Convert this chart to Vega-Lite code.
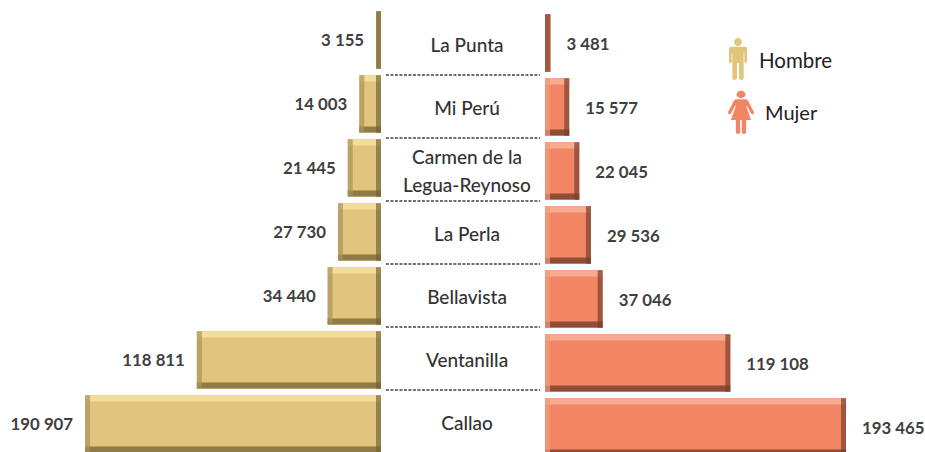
{
"$schema":"https://vega.github.io/schema/vega-lite/v6.json",
"padding":0,"spacing":0,"background":"white","autosize":{"type":"pad"},
"config":{"view":{"stroke":null},"locale":{"number":{"decimal":",","thousands":" ","grouping":[3],"currency":["","" ]}},"text":{"font":"Lato"}},
"datasets":{
"d":[
{"distrito":"La Punta","sexo":"Hombre","poblacion":3155},
{"distrito":"Mi Perú","sexo":"Hombre","poblacion":14003},
{"distrito":"Carmen de la\nLegua-Reynoso","sexo":"Hombre","poblacion":21445},
{"distrito":"La Perla","sexo":"Hombre","poblacion":27730},
{"distrito":"Bellavista","sexo":"Hombre","poblacion":34440},
{"distrito":"Ventanilla","sexo":"Hombre","poblacion":118811},
{"distrito":"Callao","sexo":"Hombre","poblacion":190907},
{"distrito":"La Punta","sexo":"Mujer","poblacion":3481},
{"distrito":"Mi Perú","sexo":"Mujer","poblacion":15577},
{"distrito":"Carmen de la\nLegua-Reynoso","sexo":"Mujer","poblacion":22045},
{"distrito":"La Perla","sexo":"Mujer","poblacion":29536},
{"distrito":"Bellavista","sexo":"Mujer","poblacion":37046},
{"distrito":"Ventanilla","sexo":"Mujer","poblacion":119108},
{"distrito":"Callao","sexo":"Mujer","poblacion":193465}
],
"leyenda":[{"sexo":"Hombre"},{"sexo":"Mujer"}]
},
"hconcat":[
{"width":381,"height":452,
 "data":{"name":"d"},
 "transform":[{"filter":"datum.sexo=='Hombre'"}],
 "encoding":{
  "y":{"field":"distrito","type":"nominal","axis":null,"sort":null,
   "scale":{"domain":["La Punta","Mi Perú","Carmen de la\nLegua-Reynoso","La Perla","Bellavista","Ventanilla","Callao"],"range":[8,456],"paddingInner":0.1,"paddingOuter":0.05}},
  "x":{"field":"poblacion","type":"quantitative","axis":null,"scale":{"domain":[0,245806],"reverse":true,"nice":false,"zero":true}}
 },
 "layer":[
  {"mark":{"type":"bar","color":"#E1C57C","clip":true}},
  {"transform":[{"filter":"datum.poblacion>5000"}],"mark":{"type":"bar","color":"#F3DE9B","height":6,"yOffset":-25.5}},
  {"transform":[{"filter":"datum.poblacion>5000"}],"mark":{"type":"bar","color":"#8E7B47","height":6,"yOffset":25.5}},
  {"transform":[{"filter":"datum.poblacion>5000"}],"mark":{"type":"tick","color":"#A8935A","thickness":5,"bandSize":52,"xOffset":2.5}},
  {"transform":[{"filter":"datum.poblacion>5000"}],"encoding":{"x":{"datum":0,"type":"quantitative"}},"mark":{"type":"tick","color":"#75643A","thickness":5,"bandSize":52,"xOffset":-2.5}},
  {"transform":[{"filter":"datum.poblacion<5000"}],"mark":{"type":"bar","color":"#8F7C48"}},
  {"mark":{"type":"text","align":"right","baseline":"middle","dx":-12,"dy":1,"font":"Lato","fontWeight":"bold","fontSize":16.8,"color":"#404040"},
   "encoding":{"text":{"field":"poblacion","type":"quantitative","format":",d"}}}
 ]
},
{"width":164,"height":452,
 "data":{"name":"d"},
 "transform":[{"filter":"datum.sexo=='Hombre'"}],
 "encoding":{
  "y":{"field":"distrito","type":"nominal","axis":null,"sort":null,
   "scale":{"domain":["La Punta","Mi Perú","Carmen de la\nLegua-Reynoso","La Perla","Bellavista","Ventanilla","Callao"],"range":[13.5,454.5],"paddingInner":0.1,"paddingOuter":0.05}}
 },
 "layer":[
  {"transform":[{"filter":"datum.distrito!='Callao'"}],
   "mark":{"type":"rule","color":"#404040","strokeWidth":1.5,"strokeDash":[3,1.5],"yOffset":30},
   "encoding":{"x":{"datum":0.03,"type":"quantitative","axis":null,"scale":{"domain":[0,1]}},"x2":{"datum":0.97}}},
  {"transform":[{"filter":"indexof(datum.distrito,'\\n')<0"}],
   "mark":{"type":"text","align":"center","baseline":"middle","dx":4,"dy":1,"font":"Lato","fontSize":19,"fontWeight":500,"color":"#333333"},
   "encoding":{"text":{"field":"distrito","type":"nominal"}}},
  {"transform":[{"filter":"indexof(datum.distrito,'\\n')>=0"}],
   "mark":{"type":"text","align":"center","baseline":"middle","dx":4,"dy":-13,"font":"Lato","fontSize":19,"fontWeight":500,"color":"#333333","lineBreak":"\n","lineHeight":28},
   "encoding":{"text":{"field":"distrito","type":"nominal"}}}
 ]
},
{"width":380,"height":452,
 "layer":[
 {"data":{"name":"d"},
  "transform":[{"filter":"datum.sexo=='Mujer'"}],
  "encoding":{
   "y":{"field":"distrito","type":"nominal","axis":null,"sort":null,
    "scale":{"domain":["La Punta","Mi Perú","Carmen de la\nLegua-Reynoso","La Perla","Bellavista","Ventanilla","Callao"],"range":[11,459],"paddingInner":0.1,"paddingOuter":0.05}},
   "x":{"field":"poblacion","type":"quantitative","axis":null,"scale":{"domain":[0,244216],"nice":false,"zero":true}}
  },
  "layer":[
   {"mark":{"type":"bar","color":"#F28664","clip":true}},
   {"transform":[{"filter":"datum.poblacion>5000"}],"mark":{"type":"bar","color":"#F7AB90","height":6,"yOffset":-25.5}},
   {"transform":[{"filter":"datum.poblacion>5000"}],"mark":{"type":"bar","color":"#8F4C37","height":6,"yOffset":25.5,"clip":true}},
   {"transform":[{"filter":"datum.poblacion>5000"}],"encoding":{"x":{"datum":0,"type":"quantitative"}},"mark":{"type":"tick","color":"#F39A7C","thickness":5,"bandSize":52,"xOffset":2.5}},
   {"transform":[{"filter":"datum.poblacion>5000"}],"mark":{"type":"tick","color":"#7A3F2E","thickness":5,"bandSize":52,"xOffset":-2.5}},
   {"transform":[{"filter":"datum.poblacion<5000"}],"mark":{"type":"bar","color":"#A5563F"}},
   {"mark":{"type":"text","align":"left","baseline":"middle","dx":16,"dy":2,"font":"Lato","fontWeight":"bold","fontSize":16.8,"color":"#404040"},
    "encoding":{"text":{"field":"poblacion","type":"quantitative","format":",d"}}}
  ]},
 {"data":{"name":"leyenda"},"transform":[{"filter":"datum.sexo=='Hombre'"}],
  "encoding":{"y":{"datum":"La Punta","type":"nominal"}},
  "layer":[
   {"mark":{"type":"point","filled":true,"opacity":1,"color":"#E1C57C","size":1764,"yOffset":16,
     "shape":"M-.19,-.81a.19,.19 0 1 0 .38,0a.19,.19 0 1 0 -.38,0ZM-.35,-.58L.35,-.58Q.43,-.58 .43,-.48L.43,.12Q.43,.2 .36,.2Q.3,.2 .3,.12L.3,-.3L.27,-.3L.27,.92Q.27,1 .18,1Q.05,1 .05,.92L.05,.2L-.05,.2L-.05,.92Q-.05,1 -.18,1Q-.27,1 -.27,.92L-.27,-.3L-.3,-.3L-.3,.12Q-.3,.2 -.36,.2Q-.43,.2 -.43,.12L-.43,-.48Q-.43,-.58 -.35,-.58Z"},
    "encoding":{"x":{"datum":124036,"type":"quantitative"}}},
   {"mark":{"type":"text","align":"left","baseline":"middle","yOffset":19,"font":"Lato","fontSize":20.5,"color":"#222222"},
    "encoding":{"x":{"datum":137532,"type":"quantitative"},"text":{"field":"sexo","type":"nominal"}}}
  ]},
 {"data":{"name":"leyenda"},"transform":[{"filter":"datum.sexo=='Mujer'"}],
  "encoding":{"y":{"datum":"Mi Perú","type":"nominal"}},
  "layer":[
   {"mark":{"type":"point","filled":true,"opacity":1,"color":"#F28664","size":1849,
     "yOffset":5.5,
     "shape":"M-.21,-.84a.21,.17 0 1 0 .42,0a.21,.17 0 1 0 -.42,0ZM-.22,-.62L.22,-.62Q.3,-.62 .34,-.54L.6,-.02Q.62,.06 .56,.08Q.5,.1 .46,.04L.28,-.3L.24,-.3L.47,.35L.24,.35L.24,.92Q.24,1 .14,1Q.04,1 .04,.92L.04,.35L-.04,.35L-.04,.92Q-.04,1 -.14,1Q-.24,1 -.24,.92L-.24,.35L-.47,.35L-.24,-.3L-.28,-.3L-.46,.04Q-.5,.1 -.56,.08Q-.62,.06 -.6,-.02L-.34,-.54Q-.3,-.62 -.22,-.62Z"},
    "encoding":{"x":{"datum":125964,"type":"quantitative"}}},
   {"mark":{"type":"text","align":"left","baseline":"middle","yOffset":7,"font":"Lato","fontSize":20,"color":"#222222"},
    "encoding":{"x":{"datum":141388,"type":"quantitative"},"text":{"field":"sexo","type":"nominal"}}}
  ]}
 ]
}
]}
